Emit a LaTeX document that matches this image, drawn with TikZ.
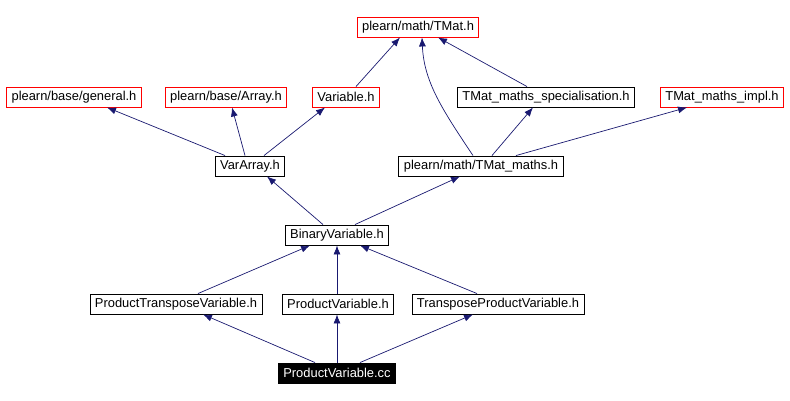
\documentclass[tikz,border=0pt]{standalone}
\usepackage{fontspec}
\setmainfont{Liberation Sans}
\usepackage{tikz}
\usetikzlibrary{arrows.meta}
\definecolor{edgeblue}{HTML}{191970}
\tikzset{
  hfile/.style={draw=black, fill=white, line width=0.9pt, font=\fontsize{12.9}{14}\selectfont,
                minimum height=20pt, inner xsep=5pt, inner ysep=0pt},
  missing/.style={hfile, draw=red},
  current/.style={hfile, fill=black, text=white},
  dep/.style={draw=edgeblue, line width=0.7pt, -{Latex[length=9pt,width=7pt]}}
}

\begin{document}
\begin{tikzpicture}[x=1pt, y=-1pt]
    \useasboundingbox (0,0) rectangle (790,401);

    % headers
    \node[missing] (tmat) at (418,27) {plearn/math/TMat.h};
    \node[missing] (general) at (74,97) {plearn/base/general.h};
    \node[missing] (array) at (226,97) {plearn/base/Array.h};
    \node[missing] (variable) at (346,97) {Variable.h};
    \node[hfile] (spec) at (546,97) {TMat\_maths\_specialisation.h};
    \node[missing] (impl) at (722,97) {TMat\_maths\_impl.h};
    \node[hfile] (vararray) at (250,166) {VarArray.h};
    \node[hfile] (tmatmaths) at (481,166) {plearn/math/TMat\_maths.h};
    \node[hfile] (binary) at (337,235) {BinaryVariable.h};
    \node[hfile] (ptv) at (176,304) {ProductTransposeVariable.h};
    \node[hfile] (pv) at (338,304) {ProductVariable.h};
    \node[hfile] (tpv) at (498,304) {TransposeProductVariable.h};
    \node[current] (cc) at (337,373) {ProductVariable.cc};

    % includes
    \draw[dep] ([xshift=-25pt]vararray.north) -- ([xshift=33pt]general.south);
    \draw[dep] ([xshift=-5pt]vararray.north) -- ([xshift=6pt]array.south);
    \draw[dep] ([xshift=14pt]vararray.north) -- ([xshift=-21pt]variable.south);
    \draw[dep] ([xshift=10pt]variable.north) -- ([xshift=-18pt]tmat.south);
    \draw[dep] ([xshift=-19pt]spec.north) -- ([xshift=20pt]tmat.south);
    \draw[dep] ([xshift=-8pt]tmatmaths.north) .. controls +(-30,-45) and +(2,45) .. ([xshift=4pt]tmat.south);
    \draw[dep] ([xshift=11pt]tmatmaths.north) -- ([xshift=-13pt]spec.south);
    \draw[dep] ([xshift=35pt]tmatmaths.north) -- ([xshift=-35pt]impl.south);
    \draw[dep] ([xshift=-14pt]binary.north) -- ([xshift=17pt]vararray.south);
    \draw[dep] ([xshift=18pt]binary.north) -- ([xshift=-21pt]tmatmaths.south);
    \draw[dep] ([xshift=22pt]ptv.north) -- ([xshift=-27pt]binary.south);
    \draw[dep] ([xshift=-1pt]pv.north) -- (binary.south);
    \draw[dep] ([xshift=-21pt]tpv.north) -- ([xshift=23pt]binary.south);
    \draw[dep] ([xshift=-22pt]cc.north) -- ([xshift=27pt]ptv.south);
    \draw[dep] (cc.north) -- ([xshift=-1pt]pv.south);
    \draw[dep] ([xshift=23pt]cc.north) -- ([xshift=-25pt]tpv.south);
\end{tikzpicture}
\end{document}
